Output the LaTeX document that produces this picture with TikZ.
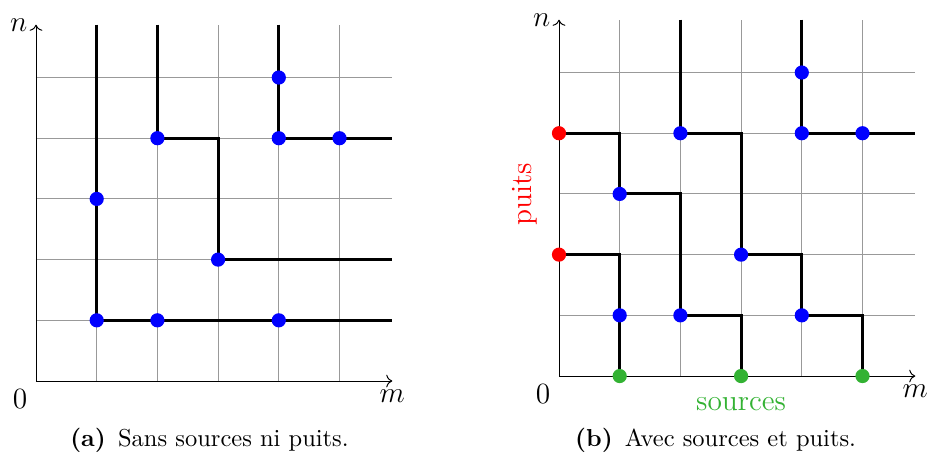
\documentclass[tikz,border=0pt]{standalone}
\usepackage{tikz}
\usetikzlibrary{arrows.meta}
\definecolor{vertsrc}{rgb}{0.2,0.7,0.2}
\newcommand{\gmax}{5.87}

\begin{document}
\begin{tikzpicture}[x=0.871cm, y=0.871cm,
  grille/.style={gray!80, line width=0.4pt},
  axe/.style={->, line width=0.4pt},
  chemin/.style={line width=1.2pt},
  sommet/.style={circle, fill=blue, inner sep=0pt, minimum size=5.8pt},
  etiq/.style={font=\large}]
\useasboundingbox (-0.593,-1.252) rectangle (14.695,6.277);

% (a) sans sources ni puits
\begin{scope}
\foreach \i in {1,...,5} {
  \draw[grille] (\i,0) -- (\i,\gmax);
  \draw[grille] (0,\i) -- (\gmax,\i);
}
\draw[axe] (0,0) -- (\gmax,0) node[etiq, below] (ma) {$m$};
\draw[axe] (0,0) -- (0,\gmax) node[etiq, left] (na) {$n$};
\node[etiq, below left] (oa) at (0,0) {$0$};

\draw[chemin] (1,\gmax) -- (1,1) -- (\gmax,1);
\draw[chemin] (2,\gmax) -- (2,4) -- (3,4) -- (3,2) -- (\gmax,2);
\draw[chemin] (4,\gmax) -- (4,4) -- (\gmax,4);

\node[sommet] (a1) at (1,3) {};
\node[sommet] (a2) at (1,1) {};
\node[sommet] (a3) at (2,1) {};
\node[sommet] (a4) at (4,1) {};
\node[sommet] (a5) at (2,4) {};
\node[sommet] (a6) at (3,2) {};
\node[sommet] (a7) at (4,5) {};
\node[sommet] (a8) at (4,4) {};
\node[sommet] (a9) at (5,4) {};

\node (capa) at (2.858,-0.972) {\textbf{(a)}\enspace Sans sources ni puits.};
\end{scope}

% (b) avec sources et puits
\begin{scope}[shift={(8.616,0.082)}]
\foreach \i in {1,...,5} {
  \draw[grille] (\i,0) -- (\i,\gmax);
  \draw[grille] (0,\i) -- (\gmax,\i);
}
\draw[axe] (0,0) -- (\gmax,0) node[etiq, below] (mb) {$m$};
\draw[axe] (0,0) -- (0,\gmax) node[etiq, left] (nb) {$n$};
\node[etiq, below left] (ob) at (0,0) {$0$};

\draw[chemin] (0,4) -- (1,4) -- (1,3) -- (2,3) -- (2,1) -- (3,1) -- (3,0);
\draw[chemin] (0,2) -- (1,2) -- (1,0);
\draw[chemin] (2,\gmax) -- (2,4) -- (3,4) -- (3,2) -- (4,2) -- (4,1) -- (5,1) -- (5,0);
\draw[chemin] (4,\gmax) -- (4,4) -- (\gmax,4);

\node[sommet] (b1) at (1,3) {};
\node[sommet] (b2) at (2,1) {};
\node[sommet] (b3) at (1,1) {};
\node[sommet] (b4) at (2,4) {};
\node[sommet] (b5) at (3,2) {};
\node[sommet] (b6) at (4,1) {};
\node[sommet] (b7) at (4,5) {};
\node[sommet] (b8) at (4,4) {};
\node[sommet] (b9) at (5,4) {};

% puits
\node[sommet, fill=red] (p1) at (0,4) {};
\node[sommet, fill=red] (p2) at (0,2) {};
\node[etiq, red, rotate=90] (puits) at (-0.56,3) {puits};

% sources
\node[sommet, fill=vertsrc] (s1) at (1,0) {};
\node[sommet, fill=vertsrc] (s2) at (3,0) {};
\node[sommet, fill=vertsrc] (s3) at (5,0) {};
\node[etiq, vertsrc] (sources) at (3,-0.46) {sources};

\node (capb) at (2.58,-1.054) {\textbf{(b)}\enspace Avec sources et puits.};
\end{scope}
\end{tikzpicture}
\end{document}
